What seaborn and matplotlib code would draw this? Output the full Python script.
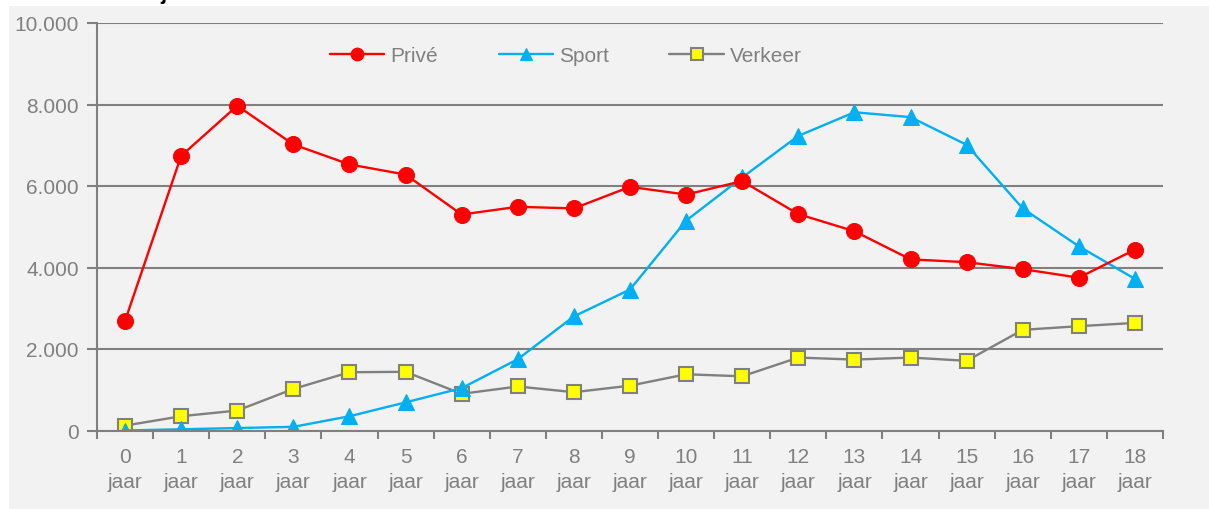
import matplotlib
matplotlib.use("Agg")
import matplotlib.pyplot as plt
from matplotlib.patches import Rectangle
from matplotlib.ticker import FixedLocator, FuncFormatter
import seaborn as sns
import pandas as pd

# ---- data ----
ages = list(range(19))
age_labels = [f"{a}\njaar" for a in ages]
prive = [2690, 6740, 7970, 7020, 6530, 6280, 5300, 5490, 5450, 5980, 5790, 6120,
         5310, 4890, 4200, 4130, 3960, 3750, 4440]
sport = [0, 30, 60, 90, 350, 690, 1040, 1750, 2800, 3460, 5150, 6210,
         7230, 7810, 7690, 7010, 5450, 4520, 3720]
verkeer = [120, 350, 490, 1020, 1430, 1440, 900, 1080, 940, 1100, 1380, 1330,
           1790, 1740, 1790, 1710, 2470, 2560, 2640]
series_names = ["Privé", "Sport", "Verkeer"]

sns.set_theme(style="white")
plt.rcParams["font.family"] = ["Liberation Sans", "DejaVu Sans"]

W, H = 1209, 510
fig = plt.figure(figsize=(W / 100, H / 100), dpi=100)
fig.patch.set_facecolor("white")
panel_color = "#f2f2f2"
fig.patches.append(Rectangle((9 / W, 0), 1, (H - 7) / H, transform=fig.transFigure,
                             facecolor=panel_color, edgecolor="none", zorder=-10))
# cut-off title (only descender visible)
fig.text(160 / W, 1 + 1 / H, "j", fontsize=16, fontweight="bold", color="black",
         va="baseline", ha="left")

ax = fig.add_axes([97 / W, 1 - 431.5 / H, (1163 - 97) / W, (431.5 - 24) / H])
ax.set_facecolor(panel_color)

df = pd.DataFrame({"age": ages, "Privé": prive, "Sport": sport, "Verkeer": verkeer})

grey = "#808080"
sns.lineplot(data=df, x="age", y="Privé", ax=ax, color="#ff0000", linewidth=1.7,
             marker="o", markersize=11.5, markeredgecolor="#ff0000",
             markerfacecolor="#ff0000", label="Privé", zorder=5)
sns.lineplot(data=df, x="age", y="Sport", ax=ax, color="#00b0f0", linewidth=1.7,
             marker="^", markersize=11.5, markeredgecolor="#00b0f0",
             markerfacecolor="#00b0f0", label="Sport", zorder=4)
sns.lineplot(data=df, x="age", y="Verkeer", ax=ax, color=grey, linewidth=1.7,
             marker="s", markersize=10, markeredgecolor=grey, markeredgewidth=1.5,
             markerfacecolor="#ffff00", label="Verkeer", zorder=3)

ax.set_xlim(-0.5, 18.5)
ax.set_ylim(0, 10000)
ax.set_xlabel("")
ax.set_ylabel("")

ax.yaxis.set_major_locator(FixedLocator([0, 2000, 4000, 6000, 8000, 10000]))
ax.yaxis.set_major_formatter(FuncFormatter(lambda v, p: f"{int(v):,}".replace(",", ".")))
ax.grid(axis="y", color=grey, linewidth=1.5)
ax.set_axisbelow(True)

ax.set_xticks(ages)
ax.set_xticklabels(age_labels, linespacing=1.4)
ax.set_xticks([a - 0.5 for a in ages] + [18.5], minor=True)
ax.tick_params(axis="x", which="major", length=0, pad=12, labelsize=15, colors=grey)
ax.tick_params(axis="x", which="minor", length=6, width=1.5, color=grey, direction="out",
               bottom=True)
ax.tick_params(axis="y", which="major", length=7, width=1.5, color=grey, pad=6,
               labelsize=15, labelcolor=grey, left=True)

for s in ["top", "right"]:
    ax.spines[s].set_visible(False)
for s in ["left", "bottom"]:
    ax.spines[s].set_color(grey)
    ax.spines[s].set_linewidth(1.5)
ax.spines["bottom"].set_zorder(6)

leg = ax.legend(loc="center", bbox_to_anchor=((566 - 97) / 1066, (431.5 - 57) / 407.5),
                ncol=3, frameon=False, fontsize=15, handlelength=2.6,
                columnspacing=2.9, handletextpad=0.3, markerscale=0.8)
for t in leg.get_texts():
    t.set_color(grey)

fig.savefig("out.png", dpi=100, facecolor="white")
